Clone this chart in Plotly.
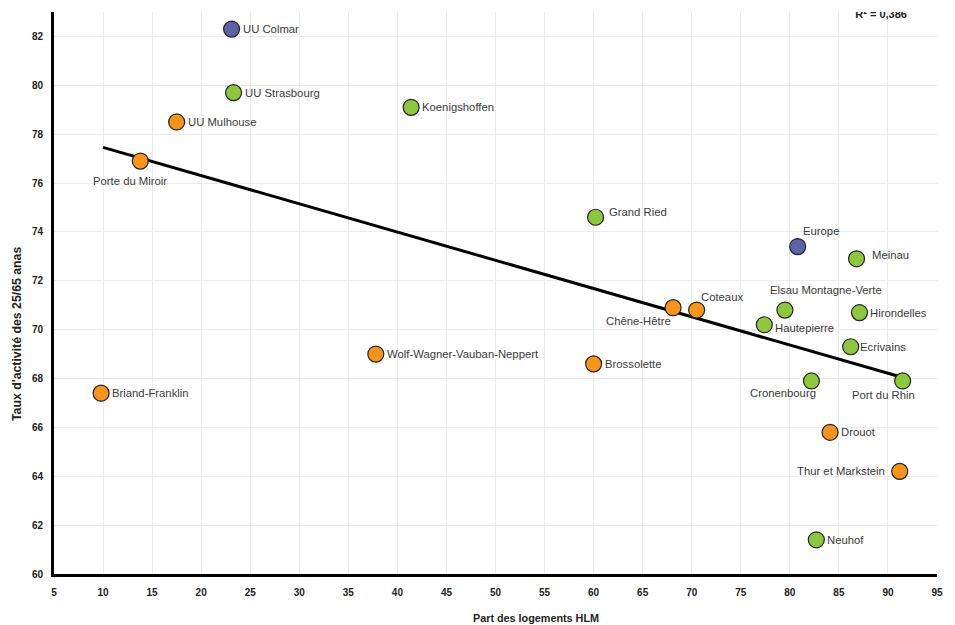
import plotly.graph_objects as go

# ---- data ----
names = ["UU Colmar", "UU Strasbourg", "UU Mulhouse", "Koenigshoffen", "Porte du Miroir",
         "Grand Ried", "Europe", "Meinau", "Chêne-Hêtre", "Coteaux",
         "Elsau Montagne-Verte", "Hautepierre", "Hirondelles", "Ecrivains",
         "Wolf-Wagner-Vauban-Neppert", "Brossolette", "Briand-Franklin", "Cronenbourg",
         "Port du Rhin", "Drouot", "Thur et Markstein", "Neuhof"]
part_hlm = [23.1, 23.3, 17.5, 41.4, 13.8,
            60.2, 80.8, 86.8, 68.1, 70.5,
            79.5, 77.4, 87.1, 86.2,
            37.8, 60.0, 9.8, 82.2,
            91.5, 84.1, 91.2, 82.7]
taux_activite = [82.3, 79.7, 78.5, 79.1, 76.9,
                 74.6, 73.4, 72.9, 70.9, 70.8,
                 70.8, 70.2, 70.7, 69.3,
                 69.0, 68.6, 67.4, 67.9,
                 67.9, 65.8, 64.2, 61.4]
groups = ["uu", "z2", "z1", "z2", "z1",
          "z2", "uu", "z2", "z1", "z1",
          "z2", "z2", "z2", "z2",
          "z1", "z1", "z1", "z2",
          "z2", "z1", "z1", "z2"]
trend_x = [10.0, 91.6]
trend_y = [77.46, 68.03]
r2_text = "R² = 0,386"
x_ticks = list(range(5, 96, 5))
y_ticks = list(range(60, 83, 2))

# ---- style ----
FONT = "Liberation Sans, Arial"
group_colors = {"uu": "#5E62A6", "z1": "#F7941D", "z2": "#8DC63F"}
# label offsets in px: (xshift, yshift, xanchor)
label_style = {
    "Porte du Miroir": (-10, -20, "center"),
    "Grand Ried": (11, 5, "left"),
    "Europe": (23, 16, "center"),
    "Meinau": (13, 4, "left"),
    "Chêne-Hêtre": (0, -13, "right"),
    "Coteaux": (2, 13, "left"),
    "Elsau Montagne-Verte": (41, 20, "center"),
    "Hautepierre": (9, -3, "left"),
    "Ecrivains": (7, 0, "left"),
    "Thur et Markstein": (-13, 0, "right"),
    "Cronenbourg": (7, -12, "right"),
    "Port du Rhin": (-19, -14, "center"),
}

fig = go.Figure()

fig.add_trace(go.Scatter(
    x=trend_x, y=trend_y, mode="lines",
    line=dict(color="black", width=3), hoverinfo="skip", showlegend=False))

fig.add_trace(go.Scatter(
    x=part_hlm, y=taux_activite, mode="markers",
    marker=dict(size=16, color=[group_colors[g] for g in groups],
                line=dict(color="#222222", width=1.2)),
    text=names, showlegend=False))

# R² label in a fraction-of-plot overlay frame so that it is clipped at the plot top
fig.add_trace(go.Scatter(
    x=[0.966], y=[0.9945], xaxis="x2", yaxis="y2", mode="text",
    text=["<b>" + r2_text + "</b>"], textposition="middle left",
    textfont=dict(family=FONT, size=11, color="#222"),
    cliponaxis=True, hoverinfo="skip", showlegend=False))

annotations = []
for n, x, y in zip(names, part_hlm, taux_activite):
    xs, ys, xa = label_style.get(n, (9, 0, "left"))
    annotations.append(dict(x=x, y=y, xref="x", yref="y", text=n, showarrow=False,
                            xshift=xs, yshift=ys, xanchor=xa, yanchor="middle",
                            font=dict(family=FONT, size=11.3, color="#3a3a3a")))

annotations.append(dict(x=(536 - 54) / (937 - 54), y=0, xref="paper", yref="paper",
                        yshift=-44, text="<b>Part des logements HLM</b>", showarrow=False,
                        xanchor="center", yanchor="middle",
                        font=dict(family=FONT, size=10.8, color="#222")))
annotations.append(dict(x=0, y=(574 - 334) / (574 - 12), xref="paper", yref="paper",
                        xshift=-37, text="<b>Taux d'activité des 25/65 anas</b>", showarrow=False,
                        textangle=-90, xanchor="center", yanchor="middle",
                        font=dict(family=FONT, size=12.3, color="#222")))

# page has an 8px body margin: figure is placed at (8, 8)
fig.update_layout(
    width=947, height=617,
    margin=dict(l=46, r=18, t=4, b=51),
    paper_bgcolor="white", plot_bgcolor="white",
    font=dict(family=FONT, size=10, color="#222"),
    annotations=annotations,
    xaxis=dict(range=[5, 95], tickvals=x_ticks, ticktext=[f"<b>{v}</b>" for v in x_ticks],
               showgrid=True, gridcolor="#ebebeb", gridwidth=1,
               showline=True, linecolor="black", linewidth=3,
               zeroline=False, ticks="", ticklen=0, ticklabelstandoff=7,
               tickfont=dict(family=FONT, size=10, color="#222")),
    yaxis=dict(range=[60, 83], tickvals=y_ticks, ticktext=[f"<b>{v}</b>" for v in y_ticks],
               showgrid=True, gridcolor="#ebebeb", gridwidth=1,
               showline=True, linecolor="black", linewidth=3,
               zeroline=False, ticks="", ticklen=0, ticklabelstandoff=6,
               tickfont=dict(family=FONT, size=10, color="#222")),
    xaxis2=dict(overlaying="x", range=[0, 1], visible=False, fixedrange=True),
    yaxis2=dict(overlaying="y", range=[0, 1], visible=False, fixedrange=True),
)

fig.write_html("out.html")
